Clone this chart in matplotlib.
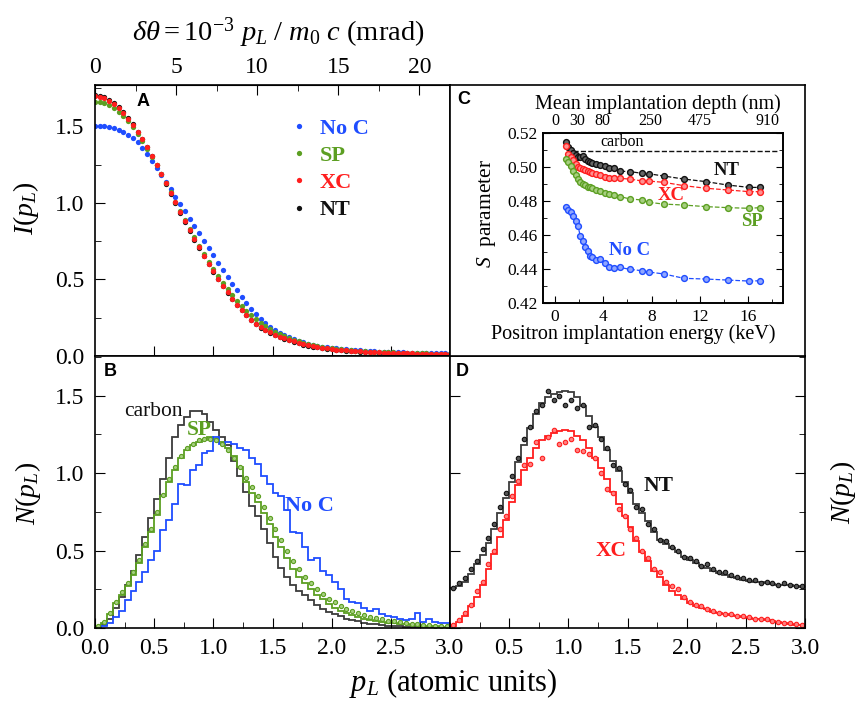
import numpy as np
import matplotlib
matplotlib.use("Agg")
import matplotlib.pyplot as plt
from matplotlib.ticker import MultipleLocator

# === fonts ===
plt.rcParams['font.family'] = ['Liberation Serif', 'DejaVu Serif']
plt.rcParams['mathtext.fontset'] = 'custom'
plt.rcParams['mathtext.rm'] = 'Liberation Serif'
plt.rcParams['mathtext.it'] = 'Liberation Serif:italic'
plt.rcParams['mathtext.bf'] = 'Liberation Serif:bold'

BLUE = '#1f4dff'
GREEN = '#5c9f22'
RED = '#ff1e1e'
BLACK = '#111111'
GREY = '#3c3c3c'

# === panel A: I(pL), one point every 0.04 a.u. ===
pL_A = np.linspace(0, 3, 76)
I_noC = [1.505, 1.504, 1.502, 1.498, 1.490, 1.478, 1.462, 1.444, 1.422, 1.396,
         1.360, 1.318, 1.275, 1.230, 1.184, 1.137, 1.089, 1.041, 0.993, 0.945,
         0.897, 0.849, 0.801, 0.753, 0.705, 0.657, 0.610, 0.563, 0.517, 0.472,
         0.428, 0.386, 0.346, 0.309, 0.275, 0.244, 0.216, 0.192, 0.170, 0.151,
         0.135, 0.121, 0.109, 0.098, 0.089, 0.081, 0.074, 0.068, 0.062, 0.057,
         0.053, 0.049, 0.046, 0.043, 0.041, 0.038, 0.036, 0.034, 0.032, 0.030,
         0.029, 0.027, 0.026, 0.025, 0.024, 0.023, 0.022, 0.021, 0.020, 0.020,
         0.019, 0.018, 0.018, 0.017, 0.017, 0.016]
I_SP = [1.658, 1.656, 1.650, 1.638, 1.620, 1.596, 1.566, 1.532, 1.493, 1.450,
        1.403, 1.353, 1.300, 1.245, 1.188, 1.129, 1.069, 1.009, 0.949, 0.890,
        0.832, 0.775, 0.720, 0.667, 0.616, 0.568, 0.522, 0.478, 0.437, 0.398,
        0.362, 0.328, 0.296, 0.267, 0.240, 0.216, 0.195, 0.176, 0.159, 0.143,
        0.129, 0.117, 0.106, 0.096, 0.087, 0.079, 0.071, 0.065, 0.059, 0.054,
        0.050, 0.046, 0.043, 0.040, 0.037, 0.035, 0.033, 0.031, 0.029, 0.027,
        0.026, 0.025, 0.024, 0.023, 0.022, 0.021, 0.020, 0.019, 0.018, 0.018,
        0.017, 0.016, 0.016, 0.015, 0.015, 0.014]
I_XC = [1.695, 1.692, 1.683, 1.668, 1.647, 1.620, 1.588, 1.551, 1.510, 1.464,
        1.415, 1.362, 1.306, 1.248, 1.189, 1.128, 1.066, 1.004, 0.943, 0.882,
        0.822, 0.764, 0.710, 0.656, 0.604, 0.555, 0.506, 0.459, 0.415, 0.374,
        0.336, 0.300, 0.268, 0.237, 0.210, 0.188, 0.171, 0.155, 0.140, 0.127,
        0.116, 0.105, 0.095, 0.086, 0.078, 0.070, 0.063, 0.058, 0.053, 0.049,
        0.045, 0.042, 0.039, 0.036, 0.034, 0.032, 0.030, 0.028, 0.026, 0.025,
        0.023, 0.022, 0.021, 0.020, 0.019, 0.018, 0.018, 0.017, 0.016, 0.016,
        0.015, 0.015, 0.014, 0.014, 0.013, 0.013]
I_NT = [1.702, 1.699, 1.690, 1.675, 1.653, 1.626, 1.593, 1.555, 1.513, 1.466,
        1.416, 1.362, 1.305, 1.246, 1.186, 1.124, 1.061, 0.998, 0.936, 0.875,
        0.815, 0.757, 0.703, 0.650, 0.599, 0.551, 0.503, 0.457, 0.413, 0.372,
        0.334, 0.298, 0.266, 0.235, 0.208, 0.186, 0.168, 0.152, 0.137, 0.124,
        0.113, 0.102, 0.092, 0.083, 0.075, 0.068, 0.061, 0.056, 0.051, 0.047,
        0.043, 0.040, 0.037, 0.034, 0.032, 0.030, 0.028, 0.026, 0.025, 0.023,
        0.022, 0.021, 0.020, 0.019, 0.018, 0.017, 0.016, 0.016, 0.015, 0.015,
        0.014, 0.014, 0.013, 0.013, 0.012, 0.012]

# === panels B and D: N(pL) histograms, bins of 0.05 a.u. ===
edges = np.linspace(0, 3, 61)
N_carbon = [0.004, 0.02, 0.06, 0.13, 0.20, 0.28, 0.37, 0.47, 0.59, 0.71,
            0.83, 0.96, 1.10, 1.23, 1.31, 1.36, 1.40, 1.40, 1.38, 1.33,
            1.28, 1.23, 1.18, 1.08, 0.98, 0.88, 0.79, 0.72, 0.64, 0.55,
            0.46, 0.39, 0.33, 0.28, 0.24, 0.21, 0.18, 0.15, 0.125, 0.105,
            0.09, 0.075, 0.06, 0.05, 0.042, 0.035, 0.029, 0.024, 0.019, 0.016,
            0.013, 0.011, 0.009, 0.008, 0.007, 0.006, 0.005, 0.004, 0.003, 0.003]
N_SP_calc = [0.006, 0.03, 0.09, 0.16, 0.21, 0.27, 0.34, 0.42, 0.52, 0.62,
             0.73, 0.85, 0.94, 1.02, 1.10, 1.15, 1.18, 1.20, 1.21, 1.23,
             1.22, 1.20, 1.16, 1.11, 1.04, 0.94, 0.87, 0.81, 0.74, 0.67,
             0.59, 0.52, 0.45, 0.38, 0.33, 0.29, 0.25, 0.21, 0.185, 0.155,
             0.13, 0.11, 0.095, 0.082, 0.07, 0.061, 0.053, 0.046, 0.04, 0.035,
             0.031, 0.027, 0.023, 0.02, 0.017, 0.015, 0.012, 0.01, 0.008, 0.006]
N_SP_exp = [0.01, 0.04, 0.10, 0.17, 0.23, 0.29, 0.36, 0.44, 0.54, 0.64,
            0.75, 0.86, 0.96, 1.04, 1.11, 1.16, 1.19, 1.21, 1.22, 1.22,
            1.21, 1.19, 1.15, 1.10, 1.04, 0.97, 0.91, 0.85, 0.78, 0.71,
            0.64, 0.57, 0.50, 0.43, 0.38, 0.33, 0.29, 0.25, 0.22, 0.19,
            0.165, 0.145, 0.125, 0.11, 0.095, 0.083, 0.072, 0.063, 0.055, 0.048,
            0.042, 0.037, 0.032, 0.028, 0.024, 0.021, 0.018, 0.015, 0.013, 0.011]
N_noC = [0.0, 0.01, 0.03, 0.07, 0.11, 0.18, 0.24, 0.30, 0.36, 0.44,
         0.50, 0.63, 0.70, 0.80, 0.93, 0.92, 1.02, 1.05, 1.13, 1.14,
         1.23, 1.19, 1.20, 1.19, 1.16, 1.15, 1.10, 1.06, 0.98, 0.93,
         0.87, 0.85, 0.76, 0.62, 0.61, 0.52, 0.44, 0.45, 0.37, 0.34,
         0.30, 0.25, 0.19, 0.17, 0.16, 0.13, 0.11, 0.12, 0.09, 0.08,
         0.07, 0.06, 0.05, 0.06, 0.10, 0.04, 0.06, 0.04, 0.03, 0.03]
N_NT_calc = [0.26, 0.27, 0.30, 0.35, 0.41, 0.47, 0.55, 0.64, 0.74, 0.84,
             0.94, 1.07, 1.18, 1.29, 1.38, 1.45, 1.49, 1.51, 1.52, 1.53,
             1.52, 1.49, 1.43, 1.37, 1.30, 1.23, 1.15, 1.08, 1.01, 0.94,
             0.87, 0.80, 0.74, 0.69, 0.62, 0.57, 0.54, 0.515, 0.49, 0.46,
             0.44, 0.42, 0.40, 0.39, 0.37, 0.355, 0.345, 0.33, 0.32, 0.31,
             0.305, 0.30, 0.295, 0.29, 0.285, 0.28, 0.278, 0.275, 0.27, 0.265]
N_NT_exp = [0.26, 0.29, 0.32, 0.38, 0.43, 0.51, 0.58, 0.67, 0.78, 0.87,
            0.98, 1.10, 1.22, 1.30, 1.40, 1.44, 1.53, 1.47, 1.50, 1.44,
            1.47, 1.42, 1.44, 1.30, 1.31, 1.22, 1.16, 1.05, 1.03, 0.93,
            0.89, 0.78, 0.77, 0.67, 0.64, 0.57, 0.56, 0.52, 0.50, 0.46,
            0.45, 0.43, 0.40, 0.41, 0.38, 0.36, 0.36, 0.34, 0.33, 0.32,
            0.31, 0.31, 0.29, 0.30, 0.29, 0.28, 0.29, 0.28, 0.27, 0.27]
N_XC_calc = [0.01, 0.04, 0.08, 0.14, 0.20, 0.28, 0.38, 0.48, 0.59, 0.70,
             0.81, 0.92, 1.02, 1.10, 1.16, 1.21, 1.24, 1.26, 1.27, 1.28,
             1.27, 1.24, 1.21, 1.16, 1.10, 1.03, 0.96, 0.88, 0.80, 0.72,
             0.65, 0.56, 0.49, 0.43, 0.37, 0.33, 0.28, 0.24, 0.21, 0.19,
             0.16, 0.145, 0.13, 0.12, 0.105, 0.095, 0.09, 0.085, 0.08, 0.072,
             0.066, 0.06, 0.055, 0.05, 0.045, 0.04, 0.032, 0.028, 0.022, 0.018]
N_XC_exp = [0.02, 0.05, 0.10, 0.15, 0.24, 0.30, 0.41, 0.50, 0.64, 0.72,
            0.85, 0.95, 1.05, 1.06, 1.20, 1.10, 1.23, 1.28, 1.19, 1.20,
            1.22, 1.15, 1.14, 1.12, 1.10, 1.00, 0.90, 0.87, 0.77, 0.72,
            0.64, 0.58, 0.50, 0.45, 0.38, 0.36, 0.30, 0.27, 0.25, 0.20,
            0.17, 0.15, 0.14, 0.12, 0.11, 0.10, 0.09, 0.09, 0.08, 0.075,
            0.07, 0.06, 0.055, 0.06, 0.045, 0.04, 0.035, 0.03, 0.025, 0.02]

# === panel C: S parameter vs positron energy ===
E_keV = [0.9, 1.1, 1.3, 1.5, 1.7, 1.9, 2.1, 2.3, 2.5, 2.7, 2.9, 3.1, 3.4, 3.7,
         4.1, 4.5, 4.9, 5.4, 6.2, 7.2, 7.8, 9.0, 10.7, 12.5, 14.3, 16.1, 17.0]
S_NT = [0.5149, 0.5120, 0.5100, 0.5083, 0.5068, 0.5060, 0.5057, 0.5062, 0.5045,
        0.5035, 0.5030, 0.5024, 0.5016, 0.5012, 0.5005, 0.4995, 0.4992, 0.4975,
        0.4973, 0.4963, 0.4960, 0.4947, 0.4929, 0.4914, 0.4894, 0.4880, 0.4880]
S_XC = [0.5125, 0.5075, 0.5058, 0.5040, 0.5015, 0.5000, 0.4992, 0.4987, 0.4982,
        0.4976, 0.4970, 0.4964, 0.4959, 0.4952, 0.4942, 0.4936, 0.4933, 0.4933,
        0.4929, 0.4918, 0.4917, 0.4910, 0.4890, 0.4875, 0.4865, 0.4855, 0.4855]
S_SP = [0.5047, 0.5031, 0.5008, 0.4978, 0.4952, 0.4930, 0.4912, 0.4900, 0.4892,
        0.4884, 0.4880, 0.4876, 0.4866, 0.4860, 0.4850, 0.4840, 0.4833, 0.4826,
        0.4812, 0.4806, 0.4792, 0.4782, 0.4776, 0.4767, 0.4761, 0.4757, 0.4761]
S_noC = [0.4762, 0.4745, 0.4733, 0.4710, 0.4680, 0.4652, 0.4592, 0.4567, 0.4530,
         0.4503, 0.4476, 0.4473, 0.4455, 0.4459, 0.4433, 0.4414, 0.4408, 0.4409,
         0.4398, 0.4390, 0.4382, 0.4371, 0.4345, 0.4341, 0.4335, 0.4329, 0.4331]
S_carbon = 0.5094
E_carbon = [1.5, 18.6]
depth_nm = ['0', '30', '80', '250', '475', '910']
depth_E = [0, 1.85, 3.9, 7.9, 12.0, 17.6]

AU_TO_MRAD = 7.297  # 1 a.u. of momentum = alpha*m0*c

# === layout (pixel boxes) ===
W, H = 859, 705
fig = plt.figure(figsize=(W / 100, H / 100), dpi=100)


def box(x0, y0, x1, y1):
    return [x0 / W, 1 - y1 / H, (x1 - x0) / W, (y1 - y0) / H]


axA = fig.add_axes(box(95, 85, 450, 356))
axB = fig.add_axes(box(95, 356, 450, 628))
axD = fig.add_axes(box(450, 356, 805, 628))
axCf = fig.add_axes(box(450, 85, 805, 356))
axC = fig.add_axes(box(543, 133, 783, 303))

for ax in (axA, axB, axD, axCf, axC):
    for s in ax.spines.values():
        s.set_linewidth(1.2)

TICK = 17

# --- A ---
axA.plot(pL_A, I_NT, 'o', color=BLACK, ms=3.8, mew=0, label='NT')
axA.plot(pL_A, I_noC, 'o', color=BLUE, ms=3.8, mew=0, label='No C')
axA.plot(pL_A, I_SP, 'o', color=GREEN, ms=3.8, mew=0, label='SP')
axA.plot(pL_A, I_XC, 'o', color=RED, ms=3.8, mew=0, label='XC')
axA.set_xlim(0, 3)
axA.set_ylim(0, 1.77)
axA.set_yticks([0, 0.5, 1.0, 1.5], ['0.0', '0.5', '1.0', '1.5'])
axA.yaxis.set_minor_locator(MultipleLocator(0.25))
axA.set_xticks(np.arange(0.5, 3, 0.5), [])
axA.tick_params(axis='y', which='both', direction='in', right=False, labelsize=TICK, pad=8)
axA.tick_params(axis='y', which='major', length=7)
axA.tick_params(axis='y', which='minor', length=4)
axA.tick_params(axis='x', direction='in', length=7, top=False)
topA = axA.secondary_xaxis('top', functions=(lambda p: p * AU_TO_MRAD, lambda t: t / AU_TO_MRAD))
topA.set_xticks([0, 5, 10, 15, 20])
topA.xaxis.set_minor_locator(MultipleLocator(2.5))
topA.tick_params(which='both', direction='in', labelsize=TICK, pad=5)
topA.tick_params(which='major', length=7)
topA.tick_params(which='minor', length=4)

h = axA.get_legend_handles_labels()[0]
leg = axA.legend([h[1], h[2], h[3], h[0]], ['No C', 'SP', 'XC', 'NT'],
                 loc='upper left', bbox_to_anchor=(0.549, 0.878), frameon=False,
                 borderpad=0, borderaxespad=0, handlelength=0.8, handletextpad=0.55,
                 labelspacing=0.3, labelcolor='linecolor',
                 prop={'family': 'Liberation Serif', 'weight': 'bold', 'size': 16})

# --- B ---
centers = (edges[:-1] + edges[1:]) / 2
axB.stairs(N_carbon, edges, baseline=None, color=GREY, lw=1.3)
axB.stairs(N_SP_calc, edges, baseline=None, color=GREEN, lw=1.3)
axB.plot(centers, N_SP_exp, 'o', color=GREEN, ms=3.0, mfc='#a6cf80', mew=0.8)
axB.stairs(N_noC, edges, baseline=None, color=BLUE, lw=1.3)
axB.set_xlim(0, 3)
axB.set_ylim(0, 1.755)
axB.set_yticks([0, 0.5, 1.0, 1.5], ['0.0', '0.5', '1.0', '1.5'])
axB.yaxis.set_minor_locator(MultipleLocator(0.25))
axB.set_xticks(np.arange(0, 3.01, 0.5), ['0.0', '0.5', '1.0', '1.5', '2.0', '2.5', '3.0'])
axB.xaxis.set_minor_locator(MultipleLocator(0.25))
axB.tick_params(which='both', direction='in', right=False, top=False, labelsize=TICK)
axB.tick_params(axis='y', pad=8)
axB.tick_params(axis='x', pad=7)
axB.tick_params(which='major', length=7)
axB.tick_params(which='minor', length=4)
axB.text(0.494, 1.40, 'carbon', color=BLACK, fontsize=15.5, ha='center', va='center')
axB.text(0.883, 1.277, 'SP', color=GREEN, fontsize=15.5, weight='bold', ha='center', va='center')
axB.text(1.81, 0.79, 'No C', color=BLUE, fontsize=16, weight='bold', ha='center', va='center')

# --- D ---
axD.stairs(N_NT_calc, edges, baseline=None, color=GREY, lw=1.3)
axD.plot(centers, N_NT_exp, 'o', color=BLACK, ms=3.2, mfc='#555555', mew=0.8)
axD.stairs(N_XC_calc, edges, baseline=None, color=RED, lw=1.3)
axD.plot(centers, N_XC_exp, 'o', color=RED, ms=3.2, mfc='#ff8080', mew=0.8)
axD.set_xlim(0, 3)
axD.set_ylim(0, 1.755)
axD.set_yticks([0, 0.5, 1.0, 1.5], [])
axD.yaxis.set_minor_locator(MultipleLocator(0.25))
axD.set_xticks(np.arange(0.5, 3.01, 0.5), ['0.5', '1.0', '1.5', '2.0', '2.5', '3.0'])
axD.xaxis.set_minor_locator(MultipleLocator(0.25))
axD.tick_params(which='both', direction='in', right=True, top=False, labelsize=TICK)
axD.tick_params(axis='x', pad=7)
axD.tick_params(which='major', length=7)
axD.tick_params(which='minor', length=4)
axD.tick_params(axis='y', which='minor', left=False)
axD.text(1.763, 0.916, 'NT', color=BLACK, fontsize=15.5, weight='bold', ha='center', va='center')
axD.text(1.364, 0.497, 'XC', color=RED, fontsize=15.5, weight='bold', ha='center', va='center')

# --- C frame and inset ---
axCf.set_xticks([])
axCf.set_yticks([])
axC.plot(E_carbon, [S_carbon, S_carbon], '--', color=BLACK, lw=1.0)
for S, c, fc in ((S_NT, BLACK, '#666666'), (S_XC, RED, '#ff9090'),
                 (S_SP, GREEN, '#a6cf80'), (S_noC, BLUE, '#8fa6ff')):
    axC.plot(E_keV, S, '--', color=c, lw=0.9, marker='o', ms=4.2, mfc=fc, mec=c, mew=1.0)
axC.set_xlim(-1, 18.9)
axC.set_ylim(0.42, 0.52)
axC.set_xticks([0, 4, 8, 12, 16])
axC.xaxis.set_minor_locator(MultipleLocator(2))
axC.set_yticks(np.arange(0.42, 0.521, 0.02), ['0.42', '0.44', '0.46', '0.48', '0.50', '0.52'])
axC.yaxis.set_minor_locator(MultipleLocator(0.01))
axC.tick_params(which='both', direction='in', right=True, top=True, labelsize=12.5, pad=4)
axC.tick_params(which='major', length=5)
axC.tick_params(which='minor', length=3)
topC = axC.twiny()
topC.set_xlim(axC.get_xlim())
topC.set_xticks(depth_E, depth_nm)
topC.tick_params(direction='in', length=0, labelsize=11.5, pad=3)
for s in topC.spines.values():
    s.set_linewidth(1.2)
axC.text(5.6, 0.5147, 'carbon', fontsize=11.5, ha='center', va='center')
axC.text(14.2, 0.4982, 'NT', color=BLACK, fontsize=13.5, weight='bold', ha='center', va='center')
axC.text(9.6, 0.4835, 'XC', color=RED, fontsize=13.5, weight='bold', ha='center', va='center')
axC.text(16.3, 0.4678, 'SP', color=GREEN, fontsize=13.5, weight='bold', ha='center', va='center')
axC.text(6.2, 0.4506, 'No C', color=BLUE, fontsize=13.5, weight='bold', ha='center', va='center')


def ftext(x, y, s, **kw):
    fig.text(x / W, 1 - y / H, s, ha='center', va='center', **kw)


ftext(658, 104, 'Mean implantation depth (nm)', fontsize=14.5)
ftext(633, 334, 'Positron implantation energy (keV)', fontsize=14.5)
ftext(487, 213, r'$S$  parameter', fontsize=15.5, rotation=90)

# --- outer labels ---
ftext(278, 33, r'$\delta\theta = 10^{-3}\ p_L\ /\ m_0\ c$ (mrad)', fontsize=20.5)
ftext(26, 208, r'$I(p_L)$', fontsize=20, rotation=90)
ftext(28, 493, r'$N(p_L)$', fontsize=20, rotation=90)
ftext(843, 492, r'$N(p_L)$', fontsize=20, rotation=90)
ftext(453, 683, r'$p_L$ (atomic units)', fontsize=22)

for x, y, s in ((143, 102, 'A'), (110, 372, 'B'), (464, 100, 'C'), (462, 372, 'D')):
    ftext(x, y, s, fontsize=13, weight='bold', family='Liberation Sans')

fig.savefig('out.png', dpi=100)
